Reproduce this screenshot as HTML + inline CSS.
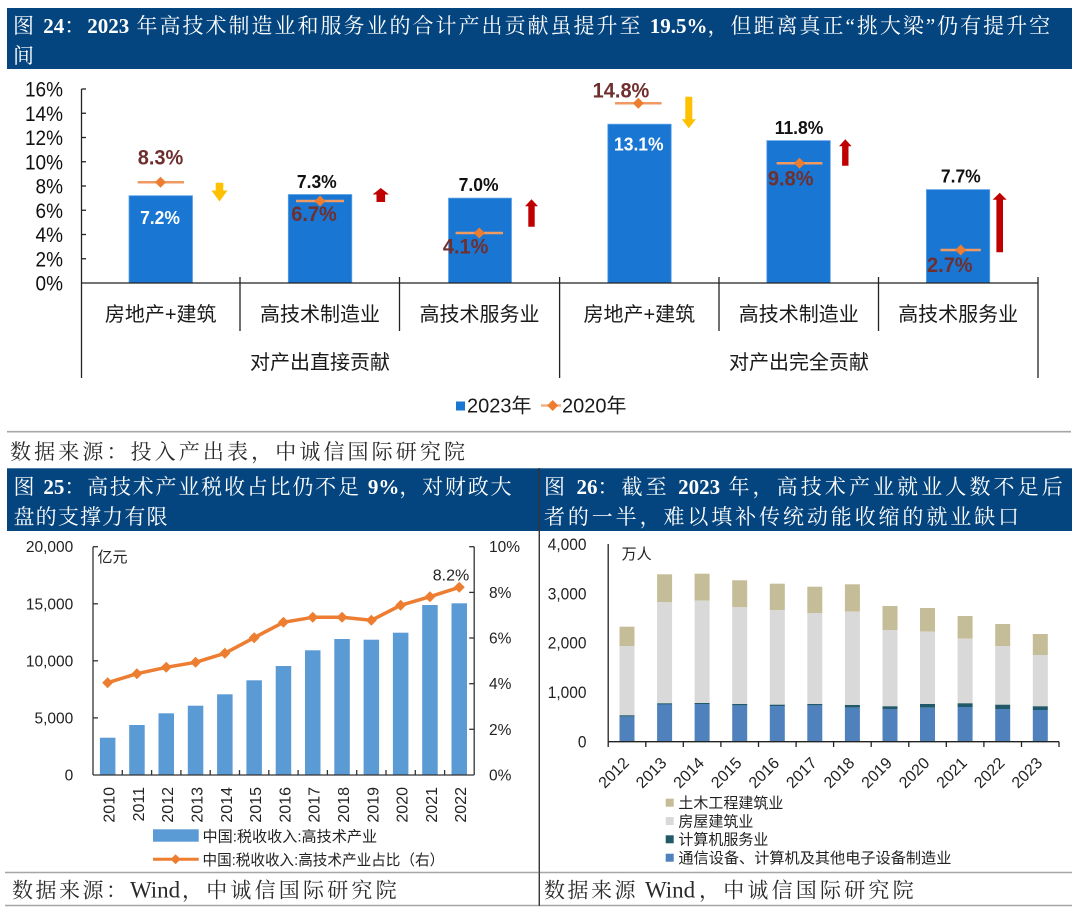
<!DOCTYPE html>
<html><head><meta charset="utf-8">
<style>html,body{margin:0;padding:0;background:#fff;}svg{display:block}</style>
</head><body>
<svg width="1080" height="914" viewBox="0 0 1080 914" xmlns="http://www.w3.org/2000/svg">
<rect width="1080" height="914" fill="#fff"/>

<!-- ===== TOP HEADER ===== -->
<rect x="7" y="8" width="1065" height="61" fill="#04457F"/>
<g font-family="'Liberation Serif','Noto Serif CJK SC',serif" font-size="21" fill="#fff">
<text x="13" y="33" style="letter-spacing:2px">图 <tspan font-weight="bold" style="letter-spacing:0">24</tspan>：<tspan font-weight="bold" style="letter-spacing:0">2023</tspan> 年高技术制造业和服务业的合计产出贡献虽提升至 <tspan font-weight="bold" style="letter-spacing:0">19.5%</tspan>，但距离真正“挑大梁”仍有提升空</text>
<text x="13" y="63">间</text>
</g>

<!-- ===== TOP CHART ===== -->
<g font-family="'Liberation Sans',Arial,sans-serif" font-size="19" fill="#111" text-anchor="end">
<text transform="translate(63,290.5) scale(1,1.1)">0%</text>
<text transform="translate(63,266.25) scale(1,1.1)">2%</text>
<text transform="translate(63,242) scale(1,1.1)">4%</text>
<text transform="translate(63,217.75) scale(1,1.1)">6%</text>
<text transform="translate(63,193.5) scale(1,1.1)">8%</text>
<text transform="translate(63,169.25) scale(1,1.1)">10%</text>
<text transform="translate(63,145) scale(1,1.1)">12%</text>
<text transform="translate(63,120.75) scale(1,1.1)">14%</text>
<text transform="translate(63,96.5) scale(1,1.1)">16%</text>
</g>
<g stroke="#222" stroke-width="1.3" fill="none">
<line x1="81.5" y1="89" x2="81.5" y2="378"/>
<line x1="81.5" y1="89" x2="86" y2="89"/>
<line x1="81.5" y1="113.25" x2="86" y2="113.25"/>
<line x1="81.5" y1="137.5" x2="86" y2="137.5"/>
<line x1="81.5" y1="161.75" x2="86" y2="161.75"/>
<line x1="81.5" y1="186" x2="86" y2="186"/>
<line x1="81.5" y1="210.25" x2="86" y2="210.25"/>
<line x1="81.5" y1="234.5" x2="86" y2="234.5"/>
<line x1="81.5" y1="258.75" x2="86" y2="258.75"/>
<line x1="240" y1="277" x2="240" y2="331"/>
<line x1="399.5" y1="277" x2="399.5" y2="331"/>
<line x1="719" y1="277" x2="719" y2="331"/>
<line x1="878.5" y1="277" x2="878.5" y2="331"/>
<line x1="559.6" y1="277" x2="559.6" y2="378"/>
<line x1="1038" y1="277" x2="1038" y2="378"/>
</g>

<!-- bars 2023 -->
<g fill="#1976D2" stroke="#5FA3E6" stroke-width="0.8">
<rect x="129" y="195.7" width="63.5" height="87.3"/>
<rect x="288.3" y="194.5" width="63.5" height="88.5"/>
<rect x="448.5" y="198.1" width="63" height="84.9"/>
<rect x="607.8" y="124.2" width="63.4" height="158.8"/>
<rect x="766.8" y="140.6" width="63.5" height="142.4"/>
<rect x="926.4" y="189.6" width="63.3" height="93.4"/>
</g>
<line x1="81.5" y1="283" x2="1038" y2="283" stroke="#222" stroke-width="1.3"/>

<!-- 2020 markers -->
<g stroke="#EE9A62" stroke-width="2.5">
<line x1="137.7" y1="182.3" x2="184" y2="182.3"/>
<line x1="296" y1="201" x2="344" y2="201"/>
<line x1="455.6" y1="233" x2="503" y2="233"/>
<line x1="615" y1="103.3" x2="661.6" y2="103.3"/>
<line x1="776.6" y1="163.3" x2="822.4" y2="163.3"/>
<line x1="940.5" y1="250" x2="980.8" y2="250"/>
</g>
<g fill="#ED7D31">
<polygon points="160.5,176.8 166,182.3 160.5,187.8 155,182.3"/>
<polygon points="320,195.5 325.5,201 320,206.5 314.5,201"/>
<polygon points="479.3,227.5 484.8,233 479.3,238.5 473.8,233"/>
<polygon points="638.3,97.8 643.8,103.3 638.3,108.8 632.8,103.3"/>
<polygon points="799.5,157.8 805,163.3 799.5,168.8 794,163.3"/>
<polygon points="960.7,244.5 966.2,250 960.7,255.5 955.2,250"/>
</g>

<!-- arrows -->
<g fill="#FFC000">
<polygon points="215.7,182.7 223.3,182.7 223.3,190.5 227.5,190.5 219.5,201.5 211.5,190.5 215.7,190.5"/>
<polygon points="685.3,96.7 692.3,96.7 692.3,119.3 695.8,119.3 688.8,128.3 681.8,119.3 685.3,119.3"/>
</g>
<g fill="#C00000">
<polygon points="380.8,188 389,194.5 385.1,194.5 385.1,202 376.5,202 376.5,194.5 372.6,194.5"/>
<polygon points="531.5,199.3 538,206.3 534.7,206.3 534.7,226.7 528.3,226.7 528.3,206.3 525,206.3"/>
<polygon points="845.3,139.3 851.6,146.3 848.5,146.3 848.5,165.7 842.1,165.7 842.1,146.3 839,146.3"/>
<polygon points="999.7,192.7 1006.7,199.7 1003,199.7 1003,252.3 996.4,252.3 996.4,199.7 992.7,199.7"/>
</g>

<!-- value labels -->
<g font-family="'Liberation Sans',Arial,sans-serif" font-weight="bold" text-anchor="middle">
<g font-size="20" fill="#6F2F2F">
<text transform="translate(160.5,164.4) scale(1,1.06)">8.3%</text>
<text transform="translate(314,221) scale(1,1.06)">6.7%</text>
<text transform="translate(465.6,253.7) scale(1,1.06)">4.1%</text>
<text transform="translate(621,97.7) scale(1,1.06)">14.8%</text>
<text transform="translate(790.7,185.4) scale(1,1.06)">9.8%</text>
<text transform="translate(949.8,272) scale(1,1.06)">2.7%</text>
</g>
<g font-size="17.5" fill="#111">
<text transform="translate(316.8,188.2) scale(1,1.08)">7.3%</text>
<text transform="translate(478.6,190.8) scale(1,1.08)">7.0%</text>
<text transform="translate(799,133.8) scale(1,1.08)">11.8%</text>
<text transform="translate(960.8,182.5) scale(1,1.08)">7.7%</text>
</g>
<g font-size="17.5" fill="#fff">
<text transform="translate(160,224.2) scale(1,1.08)">7.2%</text>
<text transform="translate(638.8,150.5) scale(1,1.08)">13.1%</text>
</g>
</g>

<!-- category labels -->
<g font-family="'Liberation Sans','Noto Sans CJK SC',sans-serif" font-size="20" fill="#1a1a1a" text-anchor="middle">
<text x="160.7" y="321">房地产+建筑</text>
<text x="320" y="321">高技术制造业</text>
<text x="479.5" y="321">高技术服务业</text>
<text x="639.3" y="321">房地产+建筑</text>
<text x="798.8" y="321">高技术制造业</text>
<text x="958.2" y="321">高技术服务业</text>
<text x="320" y="369">对产出直接贡献</text>
<text x="799" y="369">对产出完全贡献</text>
</g>

<!-- legend top -->
<rect x="456" y="401.5" width="9" height="9" fill="#1976D2"/>
<line x1="541" y1="405.5" x2="561" y2="405.5" stroke="#F4B183" stroke-width="2.5"/>
<polygon points="552.7,400 558.2,405.5 552.7,411 547.2,405.5" fill="#ED7D31"/>
<g font-family="'Liberation Sans','Noto Sans CJK SC',sans-serif" font-size="20" fill="#1a1a1a">
<text x="467" y="412.5">2023年</text>
<text x="562" y="412.5">2020年</text>
</g>

<line x1="7" y1="431.7" x2="1071" y2="431.7" stroke="#A6A6A6" stroke-width="1.6"/>
<text x="10" y="459" font-family="'Liberation Serif','Noto Serif CJK SC',serif" font-size="21" fill="#2a2a2a" textLength="455" lengthAdjust="spacing">数据来源：投入产出表，中诚信国际研究院</text>

<!-- ===== BOTTOM HEADERS ===== -->
<rect x="7" y="468.3" width="532" height="62.7" fill="#04457F"/>
<rect x="540" y="468.3" width="532" height="62.7" fill="#04457F"/>
<g font-family="'Liberation Serif','Noto Serif CJK SC',serif" font-size="21" fill="#fff">
<text x="13.5" y="494" style="letter-spacing:1.8px">图 <tspan font-weight="bold" style="letter-spacing:0">25</tspan>：高技术产业税收占比仍不足 <tspan font-weight="bold" style="letter-spacing:0">9%</tspan>，对财政大</text>
<text x="13.5" y="524" textLength="154" lengthAdjust="spacing">盘的支撑力有限</text>
<text x="544" y="494" style="letter-spacing:3.1px">图 <tspan font-weight="bold" style="letter-spacing:0">26</tspan>：截至 <tspan font-weight="bold" style="letter-spacing:0">2023</tspan> 年，高技术产业就业人数不足后</text>
<text x="544" y="524" textLength="475" lengthAdjust="spacing">者的一半，难以填补传统动能收缩的就业缺口</text>
</g>
<line x1="539.3" y1="468" x2="539.3" y2="906" stroke="#333" stroke-width="1.2"/>

<!-- ===== BOTTOM LEFT CHART ===== -->
<g font-family="'Liberation Sans',Arial,sans-serif" font-size="15.5" fill="#222">
<g text-anchor="end">
<text x="73.3" y="780.5">0</text>
<text x="73.3" y="723.4">5,000</text>
<text x="73.3" y="666.3">10,000</text>
<text x="73.3" y="609.3">15,000</text>
<text x="73.3" y="552.2">20,000</text>
</g>
<text x="489" y="780.5">0%</text>
<text x="489" y="734.8">2%</text>
<text x="489" y="689.2">4%</text>
<text x="489" y="643.5">6%</text>
<text x="489" y="597.9">8%</text>
<text x="489" y="552.2">10%</text>
<text x="451" y="580.5" text-anchor="middle" font-size="16">8.2%</text>
</g>
<text x="97.5" y="562" font-family="'Liberation Sans','Noto Sans CJK SC',sans-serif" font-size="15" fill="#222">亿元</text>

<g fill="#5B9BD5">
<rect x="99.9" y="737.7" width="15.5" height="37.3"/>
<rect x="129.2" y="725" width="15.5" height="50"/>
<rect x="158.5" y="713.3" width="15.5" height="61.7"/>
<rect x="187.8" y="705.7" width="15.5" height="69.3"/>
<rect x="217.1" y="694.3" width="15.5" height="80.7"/>
<rect x="246.4" y="680.3" width="15.5" height="94.7"/>
<rect x="275.7" y="666" width="15.5" height="109"/>
<rect x="305" y="650.3" width="15.5" height="124.7"/>
<rect x="334.3" y="639" width="15.5" height="136"/>
<rect x="363.6" y="639.7" width="15.5" height="135.3"/>
<rect x="392.9" y="632.7" width="15.5" height="142.3"/>
<rect x="422.2" y="605" width="15.5" height="170"/>
<rect x="451.5" y="603.3" width="15.5" height="171.7"/>
</g>
<g stroke="#333" stroke-width="1.3" fill="none">
<line x1="93" y1="546.7" x2="93" y2="775"/>
<line x1="474.2" y1="546.7" x2="474.2" y2="775"/>
<line x1="93" y1="775" x2="474.2" y2="775"/>
<line x1="93" y1="546.7" x2="98" y2="546.7"/>
<line x1="93" y1="603.8" x2="98" y2="603.8"/>
<line x1="93" y1="660.8" x2="98" y2="660.8"/>
<line x1="93" y1="717.9" x2="98" y2="717.9"/>
<line x1="469.2" y1="546.7" x2="474.2" y2="546.7"/>
<line x1="469.2" y1="592.4" x2="474.2" y2="592.4"/>
<line x1="469.2" y1="638" x2="474.2" y2="638"/>
<line x1="469.2" y1="683.7" x2="474.2" y2="683.7"/>
<line x1="469.2" y1="729.3" x2="474.2" y2="729.3"/>
<line x1="122.3" y1="770" x2="122.3" y2="775"/>
<line x1="151.6" y1="770" x2="151.6" y2="775"/>
<line x1="180.9" y1="770" x2="180.9" y2="775"/>
<line x1="210.2" y1="770" x2="210.2" y2="775"/>
<line x1="239.5" y1="770" x2="239.5" y2="775"/>
<line x1="268.8" y1="770" x2="268.8" y2="775"/>
<line x1="298.1" y1="770" x2="298.1" y2="775"/>
<line x1="327.4" y1="770" x2="327.4" y2="775"/>
<line x1="356.7" y1="770" x2="356.7" y2="775"/>
<line x1="386" y1="770" x2="386" y2="775"/>
<line x1="415.3" y1="770" x2="415.3" y2="775"/>
<line x1="444.6" y1="770" x2="444.6" y2="775"/>
</g>
<polyline fill="none" stroke="#ED7D31" stroke-width="3.5" stroke-linejoin="round" points="107.65,682.7 136.95,673.7 166.25,667.3 195.55,662.3 224.85,653.3 254.15,637.7 283.45,622.3 312.75,617.3 342.05,617.3 371.35,620.3 400.65,605.3 429.95,596.7 459.25,587.3"/>
<g fill="#ED7D31">
<polygon points="107.65,677.2 113.15,682.7 107.65,688.2 102.15,682.7"/>
<polygon points="136.95,668.2 142.45,673.7 136.95,679.2 131.45,673.7"/>
<polygon points="166.25,661.8 171.75,667.3 166.25,672.8 160.75,667.3"/>
<polygon points="195.55,656.8 201.05,662.3 195.55,667.8 190.05,662.3"/>
<polygon points="224.85,647.8 230.35,653.3 224.85,658.8 219.35,653.3"/>
<polygon points="254.15,632.2 259.65,637.7 254.15,643.2 248.65,637.7"/>
<polygon points="283.45,616.8 288.95,622.3 283.45,627.8 277.95,622.3"/>
<polygon points="312.75,611.8 318.25,617.3 312.75,622.8 307.25,617.3"/>
<polygon points="342.05,611.8 347.55,617.3 342.05,622.8 336.55,617.3"/>
<polygon points="371.35,614.8 376.85,620.3 371.35,625.8 365.85,620.3"/>
<polygon points="400.65,599.8 406.15,605.3 400.65,610.8 395.15,605.3"/>
<polygon points="429.95,591.2 435.45,596.7 429.95,602.2 424.45,596.7"/>
<polygon points="459.25,581.8 464.75,587.3 459.25,592.8 453.75,587.3"/>
</g>
<g font-family="'Liberation Sans',Arial,sans-serif" font-size="16" fill="#222" text-anchor="end">
<text transform="translate(114.6,787) rotate(-90)">2010</text>
<text transform="translate(143.9,787) rotate(-90)">2011</text>
<text transform="translate(173.2,787) rotate(-90)">2012</text>
<text transform="translate(202.5,787) rotate(-90)">2013</text>
<text transform="translate(231.8,787) rotate(-90)">2014</text>
<text transform="translate(261.1,787) rotate(-90)">2015</text>
<text transform="translate(290.4,787) rotate(-90)">2016</text>
<text transform="translate(319.7,787) rotate(-90)">2017</text>
<text transform="translate(349,787) rotate(-90)">2018</text>
<text transform="translate(378.3,787) rotate(-90)">2019</text>
<text transform="translate(407.6,787) rotate(-90)">2020</text>
<text transform="translate(436.9,787) rotate(-90)">2021</text>
<text transform="translate(466.2,787) rotate(-90)">2022</text>
</g>
<rect x="153" y="829.3" width="45.7" height="12.4" fill="#5B9BD5"/>
<line x1="153" y1="859.3" x2="198.7" y2="859.3" stroke="#ED7D31" stroke-width="3"/>
<polygon points="175.6,854.3 180.6,859.3 175.6,864.3 170.6,859.3" fill="#ED7D31"/>
<g font-family="'Liberation Sans','Noto Sans CJK SC',sans-serif" font-size="15" fill="#222">
<text x="202.5" y="841.5" textLength="174.6" lengthAdjust="spacingAndGlyphs">中国:税收收入:高技术产业</text>
<text x="202.5" y="864.8" textLength="241.7" lengthAdjust="spacingAndGlyphs">中国:税收收入:高技术产业占比（右）</text>
</g>

<!-- ===== BOTTOM RIGHT CHART ===== -->
<g font-family="'Liberation Sans',Arial,sans-serif" font-size="15.5" fill="#222" text-anchor="end">
<text transform="translate(586.5,747.5) scale(1,1.1)">0</text>
<text transform="translate(586.5,698.1) scale(1,1.1)">1,000</text>
<text transform="translate(586.5,648.7) scale(1,1.1)">2,000</text>
<text transform="translate(586.5,599.3) scale(1,1.1)">3,000</text>
<text transform="translate(586.5,549.9) scale(1,1.1)">4,000</text>
</g>
<text x="621.6" y="559" font-family="'Liberation Sans','Noto Sans CJK SC',sans-serif" font-size="15" fill="#222">万人</text>

<g>
<rect x="619.5" y="626.7" width="15" height="19.3" fill="#C4BD97"/>
<rect x="619.5" y="646" width="15" height="69.3" fill="#D9D9D9"/>
<rect x="619.5" y="715.3" width="15" height="1.4" fill="#215968"/>
<rect x="619.5" y="716.7" width="15" height="25" fill="#4F81BD"/>
<rect x="657.1" y="574.3" width="15" height="28" fill="#C4BD97"/>
<rect x="657.1" y="602.3" width="15" height="101" fill="#D9D9D9"/>
<rect x="657.1" y="703.3" width="15" height="1.2" fill="#215968"/>
<rect x="657.1" y="704.3" width="15" height="37.4" fill="#4F81BD"/>
<rect x="694.6" y="573.7" width="15" height="27" fill="#C4BD97"/>
<rect x="694.6" y="600.7" width="15" height="102.3" fill="#D9D9D9"/>
<rect x="694.6" y="703" width="15" height="1.2" fill="#215968"/>
<rect x="694.6" y="704" width="15" height="37.7" fill="#4F81BD"/>
<rect x="732.2" y="580.3" width="15" height="27" fill="#C4BD97"/>
<rect x="732.2" y="607.3" width="15" height="96.7" fill="#D9D9D9"/>
<rect x="732.2" y="704" width="15" height="1.4" fill="#215968"/>
<rect x="732.2" y="705.3" width="15" height="36.4" fill="#4F81BD"/>
<rect x="769.8" y="583.7" width="15" height="26.3" fill="#C4BD97"/>
<rect x="769.8" y="610" width="15" height="94.7" fill="#D9D9D9"/>
<rect x="769.8" y="704.7" width="15" height="1.4" fill="#215968"/>
<rect x="769.8" y="706" width="15" height="35.7" fill="#4F81BD"/>
<rect x="807.3" y="586.7" width="15" height="26.3" fill="#C4BD97"/>
<rect x="807.3" y="613" width="15" height="91" fill="#D9D9D9"/>
<rect x="807.3" y="704" width="15" height="1.4" fill="#215968"/>
<rect x="807.3" y="705.3" width="15" height="36.4" fill="#4F81BD"/>
<rect x="844.9" y="584.3" width="15" height="27.4" fill="#C4BD97"/>
<rect x="844.9" y="611.7" width="15" height="93.3" fill="#D9D9D9"/>
<rect x="844.9" y="705" width="15" height="2.7" fill="#215968"/>
<rect x="844.9" y="707.7" width="15" height="34" fill="#4F81BD"/>
<rect x="882.5" y="606" width="15" height="24" fill="#C4BD97"/>
<rect x="882.5" y="630" width="15" height="76.3" fill="#D9D9D9"/>
<rect x="882.5" y="706.3" width="15" height="2.7" fill="#215968"/>
<rect x="882.5" y="709" width="15" height="32.7" fill="#4F81BD"/>
<rect x="920" y="608" width="15" height="23.7" fill="#C4BD97"/>
<rect x="920" y="631.7" width="15" height="72.3" fill="#D9D9D9"/>
<rect x="920" y="704" width="15" height="3.7" fill="#215968"/>
<rect x="920" y="707.7" width="15" height="34" fill="#4F81BD"/>
<rect x="957.6" y="616" width="15" height="22.7" fill="#C4BD97"/>
<rect x="957.6" y="638.7" width="15" height="64.6" fill="#D9D9D9"/>
<rect x="957.6" y="703.3" width="15" height="3.7" fill="#215968"/>
<rect x="957.6" y="707" width="15" height="34.7" fill="#4F81BD"/>
<rect x="995.2" y="624" width="15" height="22" fill="#C4BD97"/>
<rect x="995.2" y="646" width="15" height="58.7" fill="#D9D9D9"/>
<rect x="995.2" y="704.7" width="15" height="4.3" fill="#215968"/>
<rect x="995.2" y="709" width="15" height="32.7" fill="#4F81BD"/>
<rect x="1032.8" y="634" width="15" height="21" fill="#C4BD97"/>
<rect x="1032.8" y="655" width="15" height="51.3" fill="#D9D9D9"/>
<rect x="1032.8" y="706.3" width="15" height="3.7" fill="#215968"/>
<rect x="1032.8" y="710" width="15" height="31.7" fill="#4F81BD"/>
</g>
<g stroke="#222" stroke-width="1.3">
<line x1="608.2" y1="544" x2="608.2" y2="741.7"/>
<line x1="608.2" y1="741.7" x2="1059" y2="741.7"/>
<line x1="608.2" y1="741.7" x2="608.2" y2="747"/>
<line x1="645.8" y1="741.7" x2="645.8" y2="747"/>
<line x1="683.3" y1="741.7" x2="683.3" y2="747"/>
<line x1="720.9" y1="741.7" x2="720.9" y2="747"/>
<line x1="758.5" y1="741.7" x2="758.5" y2="747"/>
<line x1="796.1" y1="741.7" x2="796.1" y2="747"/>
<line x1="833.6" y1="741.7" x2="833.6" y2="747"/>
<line x1="871.2" y1="741.7" x2="871.2" y2="747"/>
<line x1="908.8" y1="741.7" x2="908.8" y2="747"/>
<line x1="946.3" y1="741.7" x2="946.3" y2="747"/>
<line x1="983.9" y1="741.7" x2="983.9" y2="747"/>
<line x1="1021.5" y1="741.7" x2="1021.5" y2="747"/>
<line x1="1059" y1="741.7" x2="1059" y2="747"/>
</g>
<g font-family="'Liberation Sans',Arial,sans-serif" font-size="16" fill="#222" text-anchor="end">
<text transform="translate(630,764) rotate(-45)">2012</text>
<text transform="translate(667.6,764) rotate(-45)">2013</text>
<text transform="translate(705.1,764) rotate(-45)">2014</text>
<text transform="translate(742.7,764) rotate(-45)">2015</text>
<text transform="translate(780.3,764) rotate(-45)">2016</text>
<text transform="translate(817.8,764) rotate(-45)">2017</text>
<text transform="translate(855.4,764) rotate(-45)">2018</text>
<text transform="translate(893,764) rotate(-45)">2019</text>
<text transform="translate(930.5,764) rotate(-45)">2020</text>
<text transform="translate(968.1,764) rotate(-45)">2021</text>
<text transform="translate(1005.7,764) rotate(-45)">2022</text>
<text transform="translate(1043.3,764) rotate(-45)">2023</text>
</g>
<rect x="665.7" y="798.7" width="8" height="8" fill="#C4BD97"/>
<rect x="665.7" y="817" width="8" height="8" fill="#D9D9D9"/>
<rect x="665.7" y="835.3" width="8" height="8" fill="#215968"/>
<rect x="665.7" y="853.7" width="8" height="8" fill="#4F81BD"/>
<g font-family="'Liberation Sans','Noto Sans CJK SC',sans-serif" font-size="15" fill="#222">
<text x="678.4" y="808">土木工程建筑业</text>
<text x="678.4" y="826.3">房屋建筑业</text>
<text x="678.4" y="844.6">计算机服务业</text>
<text x="678.4" y="863" textLength="273" lengthAdjust="spacingAndGlyphs">通信设备、计算机及其他电子设备制造业</text>
</g>

<!-- ===== BOTTOM SOURCES ===== -->
<line x1="5" y1="872.5" x2="1072" y2="872.5" stroke="#A6A6A6" stroke-width="1.5"/>
<line x1="5" y1="905.5" x2="1072" y2="905.5" stroke="#A6A6A6" stroke-width="1.5"/>
<line x1="539.3" y1="468" x2="539.3" y2="906" stroke="#333" stroke-width="1.2"/>
<g font-family="'Liberation Serif','Noto Serif CJK SC',serif" font-size="21" fill="#2a2a2a">
<text y="897.5"><tspan x="12" style="letter-spacing:2.5px">数据来源：</tspan><tspan x="130" font-size="23" style="letter-spacing:0">Wind</tspan><tspan x="182" style="letter-spacing:3.2px">，中诚信国际研究院</tspan></text>
<text y="897.5"><tspan x="544" style="letter-spacing:2.5px">数据来源</tspan><tspan x="645" font-size="23" style="letter-spacing:0">Wind</tspan><tspan x="699" style="letter-spacing:3.2px">，中诚信国际研究院</tspan></text>
</g>
</svg>
</body></html>
